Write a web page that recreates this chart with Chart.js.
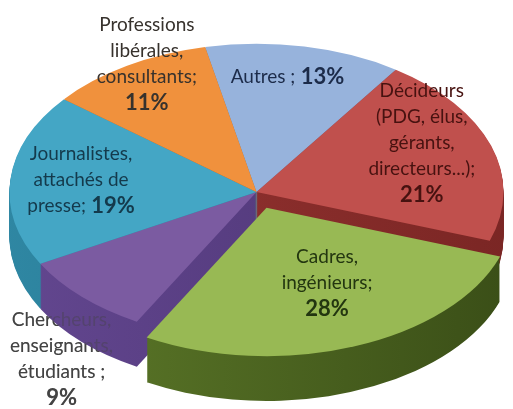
<!DOCTYPE html>
<html>
<head>
<meta charset="utf-8">
<script src="https://cdn.jsdelivr.net/npm/chart.js@4.4.0/dist/chart.umd.min.js"></script>
<style>
  html, body { margin: 0; padding: 0; background: #fff; overflow: hidden; }
  #wrap { width: 513px; height: 409px; }
</style>
</head>
<body>
<div id="wrap"><canvas id="myChart" width="513" height="409"></canvas></div>
<script>
'use strict';
// data
const categories = ['Autres', 'Décideurs (PDG, élus, gérants, directeurs...)', 'Cadres, ingénieurs',
  'Chercheurs, enseignants, étudiants', 'Journalistes, attachés de presse', 'Professions libérales, consultants'];
const shares = [13, 21, 28, 9, 19, 11];
const nameLines = [
  ['Autres ;'],
  ['Décideurs', '(PDG, élus,', 'gérants,', 'directeurs...);'],
  ['Cadres,', 'ingénieurs;'],
  ['Chercheurs,', 'enseignants,', 'étudiants ;'],
  ['Journalistes,', 'attachés de', 'presse;'],
  ['Professions', 'libérales,', 'consultants;']
];
const pctInline = [true, false, false, false, true, false];

// styles
const faceColors = ['#97b3dc', '#c0504d', '#98b954', '#7b5ba1', '#44a6c5', '#f0913d'];
const sideLight = ['#6f8bb5', '#9a3533', '#5f7c2a', '#634790', '#2f87a3', '#c46c22'];
const sideDark = ['#4f6890', '#7a2624', '#3a4e17', '#4a3270', '#1f6a82', '#9a5016'];
const labelInk = ['#1c2b49', '#471210', '#233610', '#444444', '#143a4c', '#37322d'];

const squash = 0.6;
const depth = 45;
const lineGap = 26;
const nameFont = '19px Lato';
const pctFont = 'bold 22px Lato';
// label placement relative to each slice: turn (deg) from mid-angle, reach as share of radius
const labelTurn = [-2, -8, -5, -10, 1.5, 4.4];
const labelReach = [0.786, 0.746, 0.561, 1.375, 0.715, 0.971];
const labelBehind = [false, false, false, true, false, false];

function sliceOrigin(a) {
  const m = (a.startAngle + a.endAngle) / 2;
  const off = (a.options.offset || 0) / 4;
  return { x: a.x + Math.cos(m) * off, y: a.y + Math.sin(m) * off * squash, m: m };
}

function drawLabels(chart, behind, alpha) {
  const ctx = chart.ctx;
  const arcs = chart.getDatasetMeta(0).data;
  ctx.save();
  ctx.globalAlpha = alpha;
  ctx.textBaseline = 'middle';
  ctx.textAlign = 'left';
  arcs.forEach(function(a, i) {
    if (labelBehind[i] !== behind) return;
    const o = sliceOrigin(a);
    const m = o.m + labelTurn[i] * Math.PI / 180;
    const r = a.outerRadius * labelReach[i];
    const x = o.x + Math.cos(m) * r;
    const y = o.y + Math.sin(m) * r * squash;
    const pct = shares[i] + '%';
    const rows = nameLines[i].map(t => [{ t: t, bold: false }]);
    if (pctInline[i]) rows[rows.length - 1].push({ t: ' ' + pct, bold: true });
    else rows.push([{ t: pct, bold: true }]);
    const top = y - (rows.length - 1) * lineGap / 2;
    ctx.fillStyle = labelInk[i];
    rows.forEach(function(row, k) {
      let w = 0;
      row.forEach(p => {
        ctx.font = p.bold ? pctFont : nameFont;
        p.w = ctx.measureText(p.t).width;
        w += p.w;
      });
      let px = x - w / 2;
      row.forEach(p => {
        ctx.font = p.bold ? pctFont : nameFont;
        ctx.fillText(p.t, px, top + k * lineGap);
        px += p.w;
      });
    });
  });
  ctx.restore();
}

const pie3d = {
  id: 'pie3d',
  beforeDatasetsDraw(chart) {
    const ctx = chart.ctx;
    const arcs = chart.getDatasetMeta(0).data;
    const cx = arcs[0].x, cy = arcs[0].y;
    drawLabels(chart, true, 1);
    // back slices first, exploded slice last
    const order = arcs.map((a, i) => i).sort(function(i, j) {
      const ei = arcs[i].options.offset ? 1 : 0, ej = arcs[j].options.offset ? 1 : 0;
      if (ei !== ej) return ei - ej;
      return Math.sin(sliceOrigin(arcs[i]).m) - Math.sin(sliceOrigin(arcs[j]).m);
    });
    order.forEach(function(i) {
      const a = arcs[i];
      const o = sliceOrigin(a);
      const g = ctx.createLinearGradient(0, 0, chart.width, 0);
      g.addColorStop(0, sideLight[i]);
      g.addColorStop(1, sideDark[i]);
      ctx.fillStyle = g;
      for (let d = depth; d >= 1; d--) {
        ctx.beginPath();
        ctx.moveTo(o.x, o.y + d);
        ctx.ellipse(o.x, o.y + d, a.outerRadius, a.outerRadius * squash, 0, a.startAngle, a.endAngle);
        ctx.closePath();
        ctx.fill();
      }
    });
    ctx.save();
    ctx.translate(cx, cy);
    ctx.scale(1, squash);
    ctx.translate(-cx, -cy);
  },
  afterDatasetsDraw(chart) {
    chart.ctx.restore();
    drawLabels(chart, false, 1);
    // the label tucked behind the pie still shows faintly through it
    drawLabels(chart, true, 0.4);
  }
};

const ctx = document.getElementById('myChart').getContext('2d');
const myPie = new Chart(ctx, {
  type: 'pie',
  data: {
    labels: categories,
    datasets: [{
      data: shares,
      backgroundColor: faceColors,
      borderWidth: 0,
      offset: [0, 0, 112, 0, 0, 0],
      radius: 247,
      rotation: -12,
      clip: false
    }]
  },
  options: {
    responsive: false,
    animation: false,
    events: [],
    layout: { padding: { top: 0, bottom: 25, left: 0, right: 0 } },
    plugins: { legend: { display: false }, tooltip: { enabled: false } }
  },
  plugins: [pie3d]
});
</script>
</body>
</html>
